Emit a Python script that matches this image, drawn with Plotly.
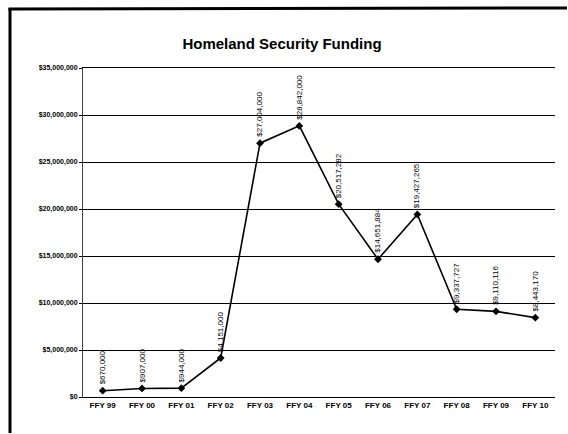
import plotly.graph_objects as go

years = ["FFY 99", "FFY 00", "FFY 01", "FFY 02", "FFY 03", "FFY 04",
         "FFY 05", "FFY 06", "FFY 07", "FFY 08", "FFY 09", "FFY 10"]
funding = [670000, 907000, 944000, 4151000, 27004000, 28842000,
           20517282, 14651884, 19427265, 9337727, 9110116, 8443170]
labels = ["$670,000", "$907,000", "$944,000", "$4,151,000", "$27,004,000", "$28,842,000",
          "$20,517,282", "$14,651,884", "$19,427,265", "$9,337,727", "$9,110,116", "$8,443,170"]
ytick_vals = [0, 5e6, 10e6, 15e6, 20e6, 25e6, 30e6, 35e6]
ytick_text = ["$0", "$5,000,000", "$10,000,000", "$15,000,000", "$20,000,000",
              "$25,000,000", "$30,000,000", "$35,000,000"]

NARROW = "Arial Narrow, Liberation Sans Narrow, Arial"

fig = go.Figure()
fig.add_trace(go.Scatter(
    x=years, y=funding, mode="lines+markers",
    line=dict(color="black", width=1.6),
    marker=dict(symbol="diamond", size=6, color="black"),
    cliponaxis=False, showlegend=False,
))

for x, y, t in zip(years, funding, labels):
    fig.add_annotation(x=x, y=y, text=t, textangle=-90, showarrow=False,
                       xanchor="center", yanchor="bottom", yshift=4,
                       font=dict(family=NARROW, size=8, color="black"))

W, H = 568, 434
ml, mr, mt, mb = 83, 13, 68, 37
pw, ph = W - ml - mr, H - mt - mb

def px(x):
    return (x - ml) / pw

def py(y):
    return (H - mb - y) / ph

# outer frame: left and top edges only (rest is cut off in the scan)
fig.add_shape(type="line", xref="paper", yref="paper",
              x0=px(10), x1=px(10), y0=py(8), y1=py(433),
              line=dict(color="black", width=3))
fig.add_shape(type="line", xref="paper", yref="paper",
              x0=px(8.5), x1=px(567), y0=py(9), y1=py(8),
              line=dict(color="black", width=3))

fig.update_layout(
    width=W, height=H,
    margin=dict(l=ml, r=mr, t=mt, b=mb),
    paper_bgcolor="white", plot_bgcolor="white",
    title=dict(text="<b>Homeland Security Funding</b>", x=282 / W, xanchor="center",
               y=1 - 44 / H, yanchor="middle",
               font=dict(family="Arial, Liberation Sans", size=15, color="black")),
    xaxis=dict(type="category", showgrid=False, showline=True, linecolor="black",
               linewidth=1, mirror=True, ticks="",
               ticktext=["<b>%s</b>" % y for y in years], tickvals=years,
               tickfont=dict(family=NARROW, size=8, color="black"),
               range=[-0.5, 11.5]),
    yaxis=dict(range=[0, 35e6], tickvals=ytick_vals,
               ticktext=["<b>%s</b>" % t for t in ytick_text],
               showgrid=True, gridcolor="black", gridwidth=1,
               showline=True, linecolor="#444", linewidth=1, ticks="outside",
               ticklen=3, tickcolor="black", zeroline=False,
               tickfont=dict(family=NARROW, size=7, color="black")),
)

fig.write_html("out.html")
